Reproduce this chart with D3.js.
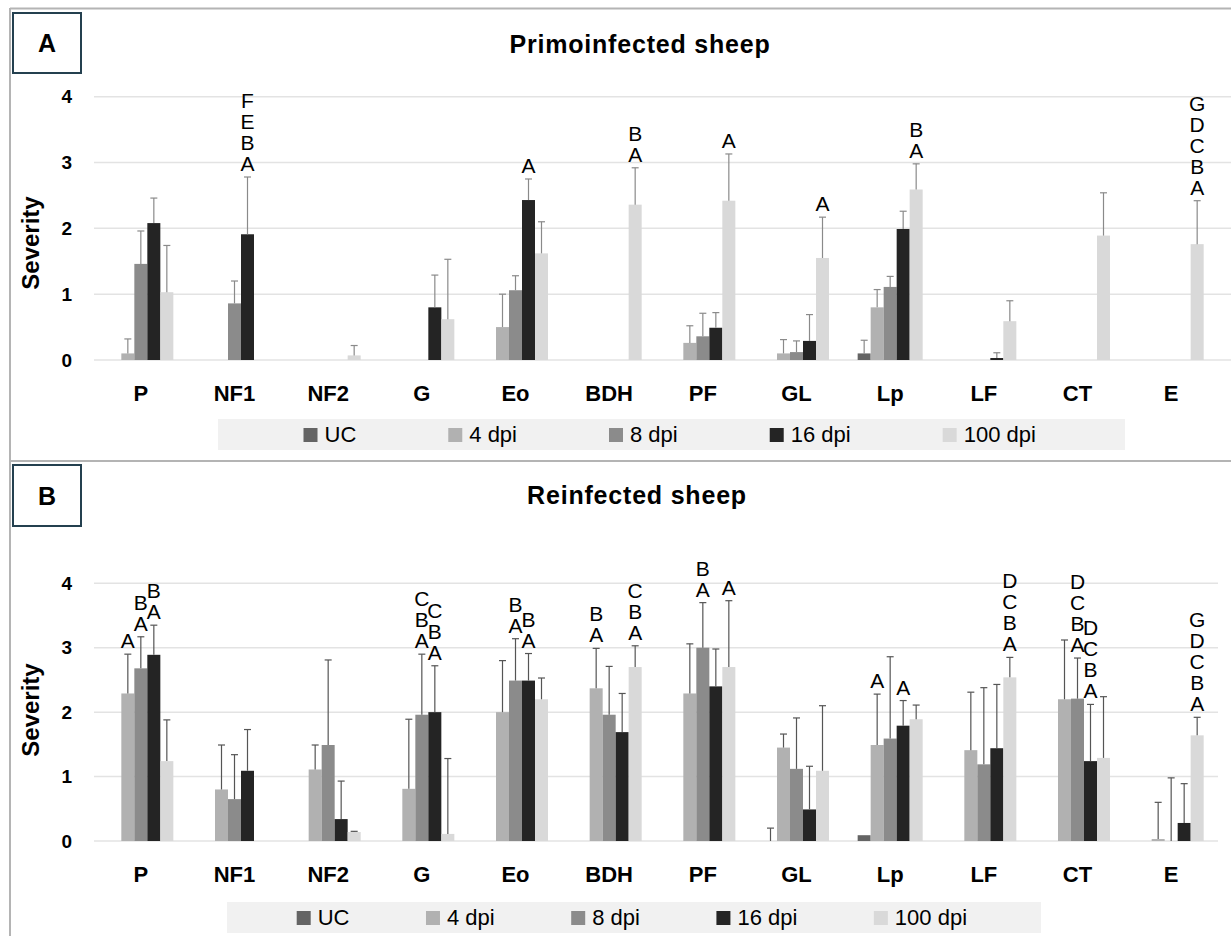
<!DOCTYPE html>
<html>
<head>
<meta charset="utf-8">
<script src="https://cdn.jsdelivr.net/npm/d3@7"></script>
<style>
  body { margin: 0; background: #fff; }
  svg { display: block; font-family: "Liberation Sans", Arial, sans-serif; }
</style>
</head>
<body>
<script>
'use strict';

// lesion categories and time points
const categories = ["P", "NF1", "NF2", "G", "Eo", "BDH", "PF", "GL", "Lp", "LF", "CT", "E"];
const seriesNames = ["UC", "4 dpi", "8 dpi", "16 dpi", "100 dpi"];
const yTicks = [0, 1, 2, 3, 4];

// A - primoinfected sheep (mean severity and upper error)
const primoUC      = [0, 0, 0, 0, 0, 0, 0, 0, 0.10, 0, 0, 0];
const primoUCErr   = [0, 0, 0, 0, 0, 0, 0, 0, 0.20, 0, 0, 0];
const primo4       = [0.10, 0, 0, 0, 0.50, 0, 0.26, 0.10, 0.80, 0, 0, 0];
const primo4Err    = [0.22, 0, 0, 0, 0.50, 0, 0.26, 0.21, 0.27, 0, 0, 0];
const primo8       = [1.46, 0.86, 0, 0, 1.06, 0, 0.36, 0.12, 1.11, 0, 0, 0];
const primo8Err    = [0.50, 0.34, 0, 0, 0.22, 0, 0.35, 0.17, 0.16, 0, 0, 0];
const primo16      = [2.08, 1.91, 0, 0.80, 2.43, 0, 0.49, 0.29, 1.99, 0.03, 0, 0];
const primo16Err   = [0.38, 0.87, 0, 0.49, 0.32, 0, 0.23, 0.40, 0.27, 0.08, 0, 0];
const primo100     = [1.03, 0, 0.07, 0.62, 1.62, 2.36, 2.42, 1.55, 2.59, 0.59, 1.89, 1.76];
const primo100Err  = [0.71, 0, 0.15, 0.91, 0.48, 0.56, 0.71, 0.62, 0.39, 0.31, 0.65, 0.66];

// significance letters (stacked bottom to top)
const primoUCSig   = ["", "", "", "", "", "", "", "", "", "", "", ""];
const primo4Sig    = ["", "", "", "", "", "", "", "", "", "", "", ""];
const primo8Sig    = ["", "", "", "", "", "", "", "", "", "", "", ""];
const primo16Sig   = ["", "ABEF", "", "", "A", "", "", "", "", "", "", ""];
const primo100Sig  = ["", "", "", "", "", "AB", "A", "A", "AB", "", "", "ABCDG"];

// B - reinfected sheep
const reUC      = [0, 0, 0, 0, 0, 0, 0, 0, 0.09, 0, 0, 0];
const reUCErr   = [0, 0, 0, 0, 0, 0, 0, 0.20, 0, 0, 0, 0];
const re4       = [2.29, 0.80, 1.11, 0.81, 2.00, 2.37, 2.29, 1.45, 1.49, 1.41, 2.20, 0.03];
const re4Err    = [0.61, 0.69, 0.38, 1.08, 0.80, 0.62, 0.77, 0.21, 0.79, 0.90, 0.92, 0.57];
const re8       = [2.68, 0.65, 1.49, 1.96, 2.49, 1.96, 3.00, 1.12, 1.59, 1.19, 2.21, 0];
const re8Err    = [0.49, 0.69, 1.32, 0.94, 0.65, 0.75, 0.70, 0.79, 1.27, 1.19, 0.63, 0.98];
const re16      = [2.89, 1.09, 0.34, 2.00, 2.49, 1.69, 2.40, 0.49, 1.79, 1.44, 1.24, 0.28];
const re16Err   = [0.46, 0.64, 0.59, 0.72, 0.42, 0.60, 0.58, 0.67, 0.39, 0.99, 0.88, 0.61];
const re100     = [1.24, 0, 0.14, 0.11, 2.20, 2.70, 2.70, 1.09, 1.89, 2.54, 1.29, 1.64];
const re100Err  = [0.64, 0, 0.01, 1.17, 0.33, 0.33, 1.03, 1.01, 0.22, 0.31, 0.95, 0.28];

const reUCSig   = ["", "", "", "", "", "", "", "", "", "", "", ""];
const re4Sig    = ["A", "", "", "", "", "AB", "", "", "A", "", "", ""];
const re8Sig    = ["AB", "", "", "ABC", "AB", "", "AB", "", "", "", "ABCD", ""];
const re16Sig   = ["AB", "", "", "ABC", "AB", "", "", "", "A", "", "ABCD", ""];
const re100Sig  = ["", "", "", "", "", "ABC", "A", "", "", "ABCD", "", "ABCDG"];

const colors = ["#646464", "#b1b1b1", "#8b8b8b", "#242424", "#d9d9d9"];

let svg = null;

window.onload = function() {
  svg = d3.select('body').append('svg')
    .attr('width', 1231)
    .attr('height', 936);

  // frame lines
  svg.append('line').attr('x1', 10).attr('x2', 1231).attr('y1', 8.5).attr('y2', 8.5)
    .attr('stroke', '#b4b4b4').attr('stroke-width', 2);
  svg.append('line').attr('x1', 10).attr('x2', 1231).attr('y1', 461).attr('y2', 461)
    .attr('stroke', '#b4b4b4').attr('stroke-width', 2);
  svg.append('line').attr('x1', 10).attr('x2', 10).attr('y1', 8).attr('y2', 936)
    .attr('stroke', '#b4b4b4').attr('stroke-width', 2);

  drawPanel({
    tag: "A", title: "Primoinfected sheep",
    means: [primoUC, primo4, primo8, primo16, primo100],
    errs: [primoUCErr, primo4Err, primo8Err, primo16Err, primo100Err],
    sigs: [primoUCSig, primo4Sig, primo8Sig, primo16Sig, primo100Sig],
    yBottom: 360, yTop: 96.7, gridRight: 1231, errColor: '#8a8a8a',
    titleX: 640, titleY: 53, boxTop: 13, boxH: 60, labelY: 243,
    legend: { x: 218, y: 419, w: 907, h: 31, start: 303.5, gap: 92 }
  });

  drawPanel({
    tag: "B", title: "Reinfected sheep",
    means: [reUC, re4, re8, re16, re100],
    errs: [reUCErr, re4Err, re8Err, re16Err, re100Err],
    sigs: [reUCSig, re4Sig, re8Sig, re16Sig, re100Sig],
    yBottom: 841, yTop: 583.3, gridRight: 1218, errColor: '#555555',
    titleX: 637, titleY: 504, boxTop: 465, boxH: 61, labelY: 710,
    legend: { x: 227, y: 902, w: 814, h: 31, start: 296.7, gap: 76.5 }
  });
}

function drawPanel(p) {
  let g = svg.append('g');

  let x0 = d3.scaleBand()
    .domain(categories)
    .range([94, 1218])
    .paddingInner(0.306)
    .paddingOuter(0.153);

  let x1 = d3.scaleBand()
    .domain(seriesNames)
    .range([0, x0.bandwidth()]);

  let y = d3.scaleLinear()
    .domain([0, 4])
    .range([p.yBottom, p.yTop]);

  // gridlines
  g.selectAll('line.grid')
    .data(yTicks)
    .enter()
    .append('line')
      .attr('class', 'grid')
      .attr('x1', 94)
      .attr('x2', p.gridRight)
      .attr('y1', (d) => y(d))
      .attr('y2', (d) => y(d))
      .attr('stroke', '#e3e3e3')
      .attr('stroke-width', 1.5);

  // y axis
  let yAxis = d3.axisLeft(y).tickValues(yTicks).tickFormat(d3.format('d')).tickSize(0).tickPadding(22);
  g.append('g')
    .attr('transform', 'translate(94, 0)')
    .call(yAxis)
    .call((s) => s.select('.domain').remove())
    .selectAll('text')
      .attr('font-family', '"Liberation Sans", Arial, sans-serif')
      .attr('font-size', '19px')
      .attr('font-weight', 'bold')
      .attr('fill', '#000');

  // x axis
  let xAxis = d3.axisBottom(x0).tickSize(0).tickPadding(25.5);
  g.append('g')
    .attr('transform', 'translate(0, ' + p.yBottom + ')')
    .call(xAxis)
    .call((s) => s.select('.domain').remove())
    .selectAll('text')
      .attr('font-family', '"Liberation Sans", Arial, sans-serif')
      .attr('font-size', '22px')
      .attr('font-weight', 'bold')
      .attr('fill', '#000');

  // flatten rows
  let rows = [];
  categories.forEach((c, i) => {
    seriesNames.forEach((s, k) => {
      rows.push({
        cat: c, ser: s, k: k,
        mean: p.means[k][i],
        err: p.errs[k][i],
        sig: p.sigs[k][i]
      });
    });
  });
  let cx = (d) => x0(d.cat) + x1(d.ser) + x1.bandwidth() / 2;

  // bars
  g.selectAll('rect.bar')
    .data(rows.filter((d) => d.mean > 0))
    .enter()
    .append('rect')
      .attr('class', 'bar')
      .attr('x', (d) => x0(d.cat) + x1(d.ser))
      .attr('y', (d) => y(d.mean))
      .attr('width', x1.bandwidth())
      .attr('height', (d) => p.yBottom - y(d.mean))
      .attr('fill', (d) => colors[d.k]);

  // upper error bars
  let errRows = rows.filter((d) => d.err > 0);
  g.selectAll('line.err')
    .data(errRows)
    .enter()
    .append('line')
      .attr('class', 'err')
      .attr('x1', cx).attr('x2', cx)
      .attr('y1', (d) => y(d.mean))
      .attr('y2', (d) => y(d.mean + d.err))
      .attr('stroke', p.errColor)
      .attr('stroke-width', 1.2);

  g.selectAll('line.cap')
    .data(errRows)
    .enter()
    .append('line')
      .attr('class', 'cap')
      .attr('x1', (d) => cx(d) - 3.5).attr('x2', (d) => cx(d) + 3.5)
      .attr('y1', (d) => y(d.mean + d.err))
      .attr('y2', (d) => y(d.mean + d.err))
      .attr('stroke', p.errColor)
      .attr('stroke-width', 1.2);

  // significance letters
  let letters = [];
  rows.filter((d) => d.sig).forEach((d) => {
    d.sig.split('').forEach((ch, j) => {
      letters.push({ ch: ch, x: cx(d), y: y(d.mean + d.err) - 6 - j * 21 });
    });
  });
  g.selectAll('text.sig')
    .data(letters)
    .enter()
    .append('text')
      .attr('class', 'sig')
      .attr('x', (d) => d.x)
      .attr('y', (d) => d.y)
      .attr('text-anchor', 'middle')
      .attr('font-size', '21px')
      .attr('fill', '#000')
      .text((d) => d.ch);

  // title
  g.append('text')
    .attr('x', p.titleX)
    .attr('y', p.titleY)
    .attr('text-anchor', 'middle')
    .attr('font-size', '25px')
    .attr('font-weight', 'bold')
    .attr('letter-spacing', '0.8px')
    .text(p.title);

  // panel tag box
  g.append('rect')
    .attr('x', 13).attr('y', p.boxTop)
    .attr('width', 68).attr('height', p.boxH)
    .attr('fill', '#fff')
    .attr('stroke', '#24404f')
    .attr('stroke-width', 2);
  g.append('text')
    .attr('x', 47)
    .attr('y', p.boxTop + p.boxH / 2 + 9)
    .attr('text-anchor', 'middle')
    .attr('font-size', '25px')
    .attr('font-weight', 'bold')
    .text(p.tag);

  // y label
  g.append('text')
    .attr('transform', 'translate(39, ' + p.labelY + ') rotate(-90)')
    .attr('text-anchor', 'middle')
    .attr('font-size', '24px')
    .attr('font-weight', 'bold')
    .text('Severity');

  // legend
  let L = p.legend;
  g.append('rect')
    .attr('x', L.x).attr('y', L.y)
    .attr('width', L.w).attr('height', L.h)
    .attr('fill', '#f1f1f1');

  let lx = L.start;
  seriesNames.forEach((s, k) => {
    g.append('rect')
      .attr('x', lx).attr('y', L.y + 9)
      .attr('width', 14).attr('height', 14)
      .attr('fill', colors[k]);
    let t = g.append('text')
      .attr('x', lx + 21)
      .attr('y', L.y + 23)
      .attr('font-size', '22px')
      .attr('fill', '#000')
      .text(s);
    lx += 21 + t.node().getComputedTextLength() + L.gap;
  });
}
</script>
</body>
</html>
